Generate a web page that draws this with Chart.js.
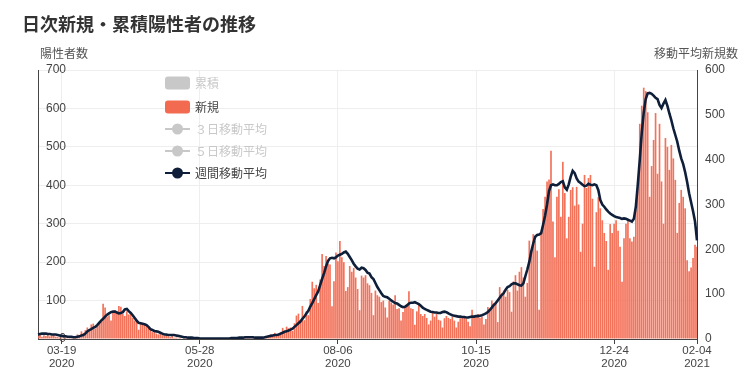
<!DOCTYPE html>
<html><head><meta charset="utf-8">
<script src="https://cdn.jsdelivr.net/npm/chart.js@4.4.0/dist/chart.umd.min.js"></script>
<style>html,body{margin:0;padding:0;background:#fff;}#wrap{width:744px;height:383px;}</style>
</head><body><div id="wrap"><canvas id="c" width="744" height="383"></canvas></div>
<script>
const titleText = '日次新規・累積陽性者の推移';
const leftCaption = '陽性者数';
const rightCaption = '移動平均新規数';
const startDate = '2020-03-07';
const tickDates = ['2020-03-19','2020-05-28','2020-08-06','2020-10-15','2020-12-24','2021-02-04'];
const legendLabels = ['累積','新規','３日移動平均','５日移動平均','週間移動平均'];

// daily new positives (left axis), one per day from startDate
const dailyNew = [
 9,12,6,10,8,13,7,9,11,6,
 5,3,4,6,3,2,5,4,3,
 8,12,10,20,16,23,
 30,22,38,40,27,35,42,44,
 92,
 82,58,62,48,68,75,70,
 86,84,65,60,72,64,70,
 55,48,45,24,40,42,38,
 36,30,25,18,22,14,12,
 15,10,8,12,7,5,8,3,4,
 2,3,1,4,2,0,1,3,0,1,2,0,1,0,2,
 0,1,2,0,1,0,3,1,0,2,1,0,1,3,2,1,4,3,5,7,4,6,2,3,1,2,3,4,2,6,
 5,8,12,10,16,9,12,
 18,29,22,32,28,30,21,
 41,61,66,49,86,49,72,
 62,104,149,132,141,94,155,
 221,190,216,195,194,85,150,225,202,255,
 213,200,125,135,190,175,185,160,130,75,
 165,160,166,145,140,120,62,126,114,110,96,100,82,56,
 100,95,90,114,78,80,48,70,82,90,124,80,
 78,37,72,90,65,60,65,55,38,48,70,58,66,50,48,30,54,60,
 55,52,58,48,30,45,54,58,60,52,45,33,
 76,60,57,65,55,58,38,52,83,75,100,92,96,44,
 135,118,126,110,128,122,71,150,166,126,175,187,160,110,146,
 256,226,273,256,230,76,273,338,370,410,415,490,
 306,213,370,390,318,461,380,262,
 318,388,395,347,396,350,227,300,427,393,419,427,365,188,
 330,369,340,309,276,255,180,299,276,300,309,282,240,149,
 262,300,309,262,254,266,336,396,560,607,654,645,590,370,
 450,518,588,430,560,410,300,523,500,440,505,470,414,276,
 354,388,370,340,205,176,186,211,245,240
];

// weekly moving average (right axis)
const weeklyAvg = [
 10,11,12,12,12,11,11,10,10,10,
 9,8,7,6,6,5,5,5,4,4,
 5,6,8,9,12,17,20,22,25,27,
 31,36,41,45,50,54,57,60,61,61,
 59,57,58,60,66,67,62,58,53,47,
 41,36,35,34,33,31,27,22,20,18,
 17,16,14,12,10,10,9,9,9,9,
 8,7,6,5,4,4,3,3,3,2,
 2,2,1,1,1,1,
 1,1,1,1,1,1,1,1,1,1,
 1,1,2,2,2,2,3,3,3,4,
 4,4,4,4,3,3,3,3,3,4,
 5,6,7,8,9,9,10,12,14,16,
 17,19,21,23,27,31,35,39,45,50,
 57,63,72,80,89,98,106,120,134,147,
 162,174,180,181,180,182,186,188,190,193,
 195,190,183,176,168,162,157,155,159,158,
 154,148,146,138,134,125,116,109,102,96,94,93,
 90,86,83,80,79,76,73,71,72,75,79,81,
 81,82,80,78,74,70,67,65,63,61,60,59,59,58,58,60,61,60,
 57,55,53,52,51,50,50,49,49,48,48,49,
 50,50,51,51,52,53,55,57,60,65,70,76,80,86,92,98,102,110,116,
 118,122,124,124,122,120,119,124,140,155,
 172,195,213,228,232,233,236,255,275,300,330,343,
 345,343,343,346,350,352,338,333,
 345,362,375,370,358,351,348,344,341,342,346,344,343,345,
 343,332,310,300,295,289,284,280,277,274,272,271,270,268,
 269,268,266,264,262,268,295,345,400,460,505,535,548,549,
 547,543,538,535,522,515,525,533,520,503,488,470,455,440,
 420,403,390,372,350,325,305,285,262,220
];

const labels = [];
{
  const t0 = Date.parse(startDate + 'T00:00:00Z');
  for (let i = 0; i < dailyNew.length; i++) {
    labels.push(new Date(t0 + i * 86400000).toISOString().slice(0, 10));
  }
}

const FONT = "'Liberation Sans', Arial, 'Noto Sans CJK JP', sans-serif";
const CJK = "'Noto Sans CJK JP', 'Liberation Sans', sans-serif";
const barColor = '#f3725a';
const legendBarColor = '#f26a50';
const lineColor = '#0f1f3a';
const hiddenColor = '#c8c8c8';

function rrect(ctx, x, y, w, h, r) {
  ctx.beginPath();
  ctx.moveTo(x + r, y);
  ctx.lineTo(x + w - r, y);
  ctx.quadraticCurveTo(x + w, y, x + w, y + r);
  ctx.lineTo(x + w, y + h - r);
  ctx.quadraticCurveTo(x + w, y + h, x + w - r, y + h);
  ctx.lineTo(x + r, y + h);
  ctx.quadraticCurveTo(x, y + h, x, y + h - r);
  ctx.lineTo(x, y + r);
  ctx.quadraticCurveTo(x, y, x + r, y);
  ctx.closePath();
}

const overlay = {
  id: 'overlay',
  afterDraw(chart) {
    const ctx = chart.ctx;
    ctx.save();
    ctx.textBaseline = 'middle';
    ctx.textAlign = 'left';
    ctx.fillStyle = '#333';
    ctx.font = 'bold 18px ' + CJK;
    ctx.fillText(titleText, 22, 24);
    ctx.font = '12px ' + CJK;
    ctx.fillStyle = '#555';
    ctx.fillText(leftCaption, 40, 53);
    ctx.textAlign = 'right';
    ctx.fillText(rightCaption, 738, 53);

    // legend
    const items = [
      {type: 'box', color: hiddenColor, text: hiddenColor, y: 83},
      {type: 'box', color: legendBarColor, text: '#444', y: 107},
      {type: 'line', color: hiddenColor, text: hiddenColor, y: 129},
      {type: 'line', color: hiddenColor, text: hiddenColor, y: 151},
      {type: 'line', color: lineColor, text: '#444', y: 173}
    ];
    ctx.textAlign = 'left';
    ctx.font = '12px ' + CJK;
    items.forEach((it, k) => {
      if (it.type === 'box') {
        ctx.fillStyle = it.color;
        rrect(ctx, 165, it.y - 6.5, 25, 13, 3);
        ctx.fill();
      } else {
        ctx.strokeStyle = it.color;
        ctx.lineWidth = 2;
        ctx.beginPath();
        ctx.moveTo(165, it.y);
        ctx.lineTo(190, it.y);
        ctx.stroke();
        ctx.fillStyle = it.color;
        ctx.beginPath();
        ctx.arc(177.5, it.y, 5.5, 0, Math.PI * 2);
        ctx.fill();
      }
      ctx.fillStyle = it.text;
      ctx.fillText(legendLabels[k], 195, it.y);
    });
    ctx.restore();
  }
};

new Chart(document.getElementById('c'), {
  type: 'bar',
  data: {
    labels: labels,
    datasets: [
      {type: 'line', label: legendLabels[4], data: weeklyAvg, yAxisID: 'y1',
       borderColor: lineColor, backgroundColor: lineColor, borderWidth: 2.6,
       pointRadius: 0, tension: 0, order: 0},
      {type: 'bar', label: legendLabels[1], data: dailyNew, yAxisID: 'y',
       backgroundColor: barColor, barPercentage: 0.85, categoryPercentage: 1, order: 1}
    ]
  },
  options: {
    responsive: false,
    animation: false,
    devicePixelRatio: 1,
    layout: {padding: {left: 38, right: 0, top: 70, bottom: 0}},
    plugins: {legend: {display: false}, tooltip: {enabled: false}, title: {display: false}},
    scales: {
      x: {
        type: 'category', offset: false,
        grid: {offset: false, color: '#eeeeee', tickLength: 5, tickColor: '#444', drawTicks: true},
        border: {color: '#444', width: 1},
        ticks: {
          autoSkip: false, maxRotation: 0, minRotation: 0, padding: 1, color: '#444',
          font: {family: FONT, size: 11.5, lineHeight: 1.1},
          callback: function (v) { const l = labels[v]; return [l.slice(5), l.slice(0, 4)]; }
        },
        afterBuildTicks: function (s) { s.ticks = s.ticks.filter(t => tickDates.includes(labels[t.value])); },
        afterFit: function (s) { s.height = 44; }
      },
      y: {
        position: 'left', min: 0, max: 700,
        ticks: {stepSize: 100, mirror: true, crossAlign: 'far', padding: 8, color: '#444', font: {family: FONT, size: 12}},
        grid: {color: '#eeeeee', drawTicks: false},
        border: {color: '#444', width: 1},
        afterFit: function (s) { s.width = 0; }
      },
      y1: {
        position: 'right', min: 0, max: 600,
        ticks: {stepSize: 100, padding: 8, color: '#444', font: {family: FONT, size: 12}},
        grid: {drawOnChartArea: false, drawTicks: false},
        border: {color: '#444', width: 1},
        afterFit: function (s) { s.width = 47; }
      }
    }
  },
  plugins: [overlay]
});
</script>
</body></html>
